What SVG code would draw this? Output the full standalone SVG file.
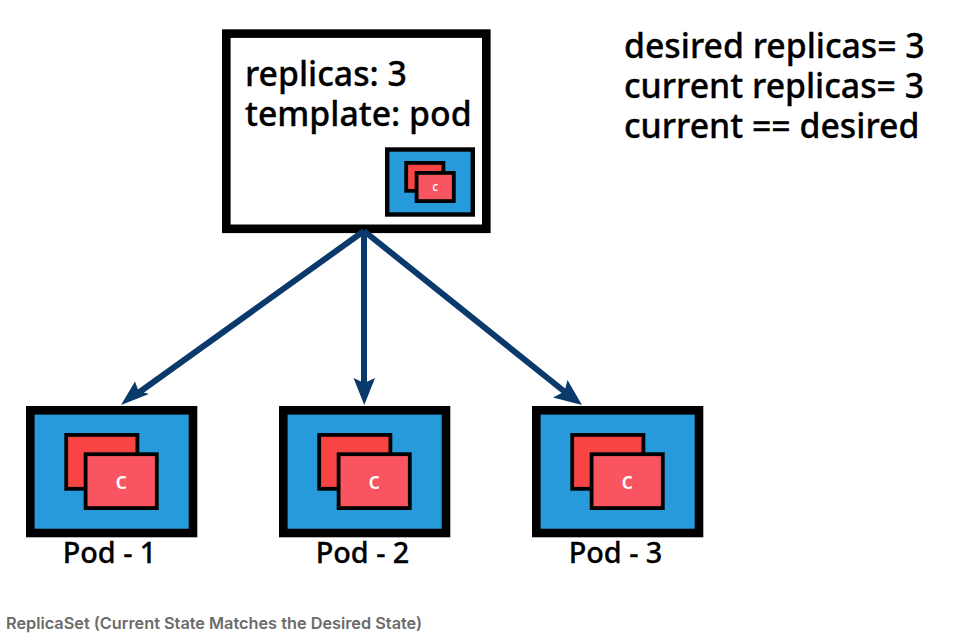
<svg xmlns="http://www.w3.org/2000/svg" width="978" height="636" viewBox="0 0 978 636">
<style>
text{font-family:"Noto Sans","Open Sans",sans-serif;font-weight:500;fill:#000}
.big{font-size:33.800px;stroke:#000;stroke-width:.3}
.lbl{font-size:28.800px;stroke:#000;stroke-width:.3;text-anchor:middle}
.c{fill:#fff;font-size:23px;text-anchor:middle}
.cs{fill:#fff;font-size:12px;text-anchor:middle}
.frame{fill:#fff;stroke:#000;stroke-width:8.600}
.pod{fill:#269ada;stroke:#000;stroke-width:8.600}
.spod{fill:#269ada;stroke:#000;stroke-width:4.400}
.c1{fill:#f94444;stroke:#000;stroke-width:3.800}
.c2{fill:#f95561;stroke:#000;stroke-width:3.800}
.cap{font-family:Inter,sans-serif;font-size:16.300px;font-weight:600;fill:#6b6b6b}
.link{fill:none;stroke:#0a3a6b;stroke-width:6}
.head{fill:#0a3a6b}
</style>
<rect width="978" height="636" fill="#fff"/>
<g id="replicaset">
<rect class="frame" x="226.300" y="33.600" width="260" height="195.200"/>
<text class="big"><tspan x="245" y="85.500">replicas: 3</tspan><tspan x="245" y="125.500">template: pod</tspan></text>
<rect class="spod" x="387.200" y="149.500" width="85.600" height="65"/>
<rect class="c1" x="406.200" y="162.900" width="37.200" height="27.900"/>
<rect class="c2" x="416.600" y="172.900" width="37.200" height="28.200"/>
<text class="cs" x="435.200" y="191">c</text>
</g>
<g id="status">
<text class="big"><tspan x="624" y="58">desired replicas= 3</tspan><tspan x="624" y="98">current replicas= 3</tspan><tspan x="624" y="138">current == desired</tspan></text>
</g>
<g id="connectors">
<path class="link" d="M364 231L134 396M364 231V390M364 231L570 396"/>
<path class="head" d="M121 405L135 381.500L138.500 391L149 394Z"/>
<path class="head" d="M364.300 405L353.500 378L364.300 383L375 378Z"/>
<path class="head" d="M582 405L553 397.500L564.500 391.500L567.500 380Z"/>
</g>
<g id="pod-1">
<rect class="pod" x="30.300" y="410.300" width="162.700" height="122.700"/>
<rect class="c1" x="66.200" y="434.900" width="71.200" height="53.900"/>
<rect class="c2" x="85.600" y="454.200" width="71.200" height="53.900"/>
<text class="c" x="121.200" y="488.500">c</text>
<text class="lbl" x="109.500" y="562.500">Pod - 1</text>
</g>
<g id="pod-2">
<rect class="pod" x="283.300" y="410.300" width="162.700" height="122.700"/>
<rect class="c1" x="319.200" y="434.900" width="71.200" height="53.900"/>
<rect class="c2" x="338.600" y="454.200" width="71.200" height="53.900"/>
<text class="c" x="374.200" y="488.500">c</text>
<text class="lbl" x="362.500" y="562.500">Pod - 2</text>
</g>
<g id="pod-3">
<rect class="pod" x="536.300" y="410.300" width="162.700" height="122.700"/>
<rect class="c1" x="572.200" y="434.900" width="71.200" height="53.900"/>
<rect class="c2" x="591.600" y="454.200" width="71.200" height="53.900"/>
<text class="c" x="627.200" y="488.500">c</text>
<text class="lbl" x="615.500" y="562.500">Pod - 3</text>
</g>
<text class="cap" x="6" y="628.500">ReplicaSet (Current State Matches the Desired State)</text>
</svg>
